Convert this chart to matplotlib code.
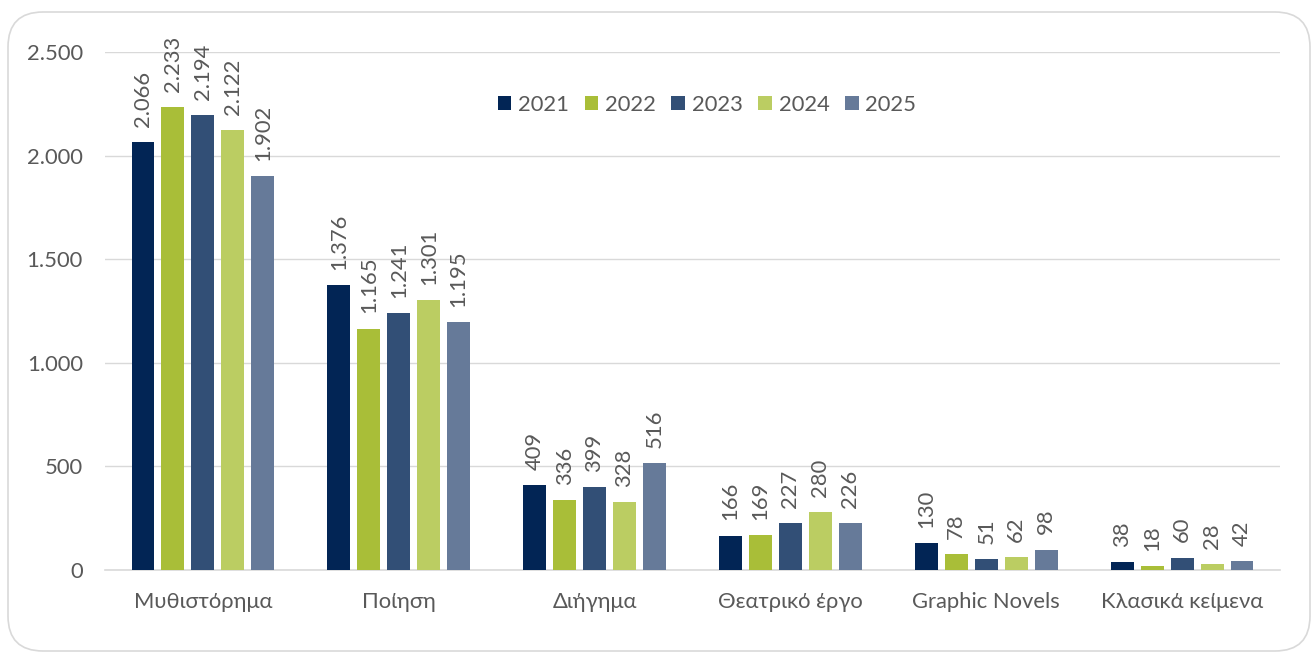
import matplotlib
matplotlib.use("Agg")
import matplotlib.pyplot as plt
import numpy as np
from matplotlib.patches import FancyBboxPatch

categories = ["Μυθιστόρημα", "Ποίηση", "Διήγημα", "Θεατρικό έργο", "Graphic Novels", "Κλασικά κείμενα"]
years = ["2021", "2022", "2023", "2024", "2025"]
v2021 = [2066, 1376, 409, 166, 130, 38]
v2022 = [2233, 1165, 336, 169, 78, 18]
v2023 = [2194, 1241, 399, 227, 51, 60]
v2024 = [2122, 1301, 328, 280, 62, 28]
v2025 = [1902, 1195, 516, 226, 98, 42]
series = [v2021, v2022, v2023, v2024, v2025]
colors = ["#022555", "#A9BE38", "#324F76", "#BBCD62", "#667A99"]
yticks = [0, 500, 1000, 1500, 2000, 2500]

plt.rcParams['font.family'] = ['Lato', 'DejaVu Sans']
text_color = "#595959"
fs = 15.8

fig = plt.figure(figsize=(13.12, 6.55), dpi=100)
border = FancyBboxPatch((0.08, 0.04), 13.02, 6.39,
                        boxstyle="round,pad=0,rounding_size=0.35",
                        transform=fig.dpi_scale_trans, facecolor="white",
                        edgecolor="#D9D9D9", linewidth=1.2, zorder=-5)
fig.patches.append(border)

ax = fig.add_axes([105/1312, 1-570/655, 1175/1312, 518/655])
ax.set_facecolor("none")
ax.set_zorder(2)

x = np.arange(len(categories))
step = 0.153
width = 0.117
for i, (vals, col, yr) in enumerate(zip(series, colors, years)):
    pos = x + (i - 2) * step
    bars = ax.bar(pos, vals, width=width, color=col, label=yr, zorder=3)
    for p, v in zip(pos, vals):
        ax.annotate(f"{v:,}".replace(",", "."), (p, v), xytext=(0, 11),
                    textcoords="offset points", rotation=90, ha="center", va="bottom",
                    fontsize=fs, color=text_color)

ax.set_xlim(-0.5, len(categories) - 0.5)
ax.set_ylim(0, 2500)
ax.set_yticks(yticks)
ax.set_yticklabels([f"{t:,}".replace(",", ".") for t in yticks])
ax.set_xticks(x)
ax.set_xticklabels(categories)
ax.tick_params(axis='both', length=0, labelsize=fs, colors=text_color)
ax.tick_params(axis='y', pad=16)
ax.tick_params(axis='x', pad=16)
ax.grid(axis='y', color="#D9D9D9", linewidth=1, zorder=0)
for s in ["top", "right", "left"]:
    ax.spines[s].set_visible(False)
ax.spines["bottom"].set_color("#D9D9D9")
ax.spines["bottom"].set_linewidth(1.2)

leg = ax.legend(loc="center", bbox_to_anchor=(602/1175, 1-53/518), ncol=5, frameon=False,
                fontsize=fs, handlelength=0.62, handleheight=0.62, handletextpad=0.3,
                columnspacing=0.72, labelcolor=text_color)

fig.savefig("out.png", dpi=100)
